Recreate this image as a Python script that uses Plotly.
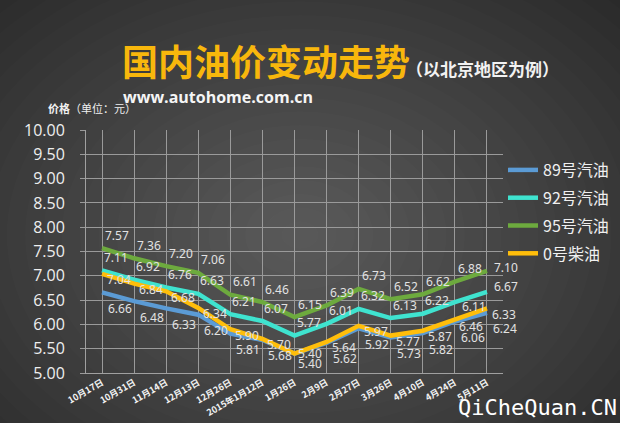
import plotly.graph_objects as go

categories = ["10月17日", "10月31日", "11月14日", "12月13日", "12月26日", "2015年1月12日",
              "1月26日", "2月9日", "2月27日", "3月26日", "4月10日", "4月24日", "5月11日"]
gas89 = [6.66, 6.48, 6.33, 6.20, 5.81, 5.68, 5.40, 5.62, 5.92, 5.73, 5.82, 6.06, 6.24]
gas92 = [7.11, 6.92, 6.76, 6.63, 6.21, 6.07, 5.77, 6.01, 6.32, 6.13, 6.22, 6.46, 6.67]
gas95 = [7.57, 7.36, 7.20, 7.06, 6.61, 6.46, 6.15, 6.39, 6.73, 6.52, 6.62, 6.88, 7.10]
diesel0 = [7.04, 6.84, 6.68, 6.34, 5.90, 5.70, 5.40, 5.64, 5.97, 5.77, 5.87, 6.11, 6.33]
y_ticks = [5.0, 5.5, 6.0, 6.5, 7.0, 7.5, 8.0, 8.5, 9.0, 9.5, 10.0]

series = [
    ("89号汽油", gas89, "#5B9BD5", (18, -16)),
    ("92号汽油", gas92, "#3FE3CF", (14, 13)),
    ("95号汽油", gas95, "#6DAA3E", (15, 13)),
    ("0号柴油", diesel0, "#FFBE0B", (17, -6)),
]
# a few labels were moved by hand in the original
label_override = {("92号汽油", 11): (16, -24), ("0号柴油", 11): (19, 13),
                  ("92号汽油", 12): (19, 5), ("95号汽油", 12): (19, 3),
                  ("0号柴油", 6): (15, 0), ("89号汽油", 6): (15, -10)}

W, H = 620, 423
L, R, T, B = 86, 503, 130, 373


def px(x):
    return (x - L) / (R - L)


def py(y):
    return (B - y) / (B - T)


fig = go.Figure()
annotations = []
for name, vals, color, off in series:
    fig.add_trace(go.Scatter(x=categories, y=vals, mode="lines", name=name,
                             legendgroup=name,
                             line=dict(color=color, width=4.5), hoverinfo="skip"))
    for i, (c, v) in enumerate(zip(categories, vals)):
        dx, dy = label_override.get((name, i), off)
        annotations.append(dict(x=c, y=v, xref="x", yref="y", text=f"{v:.2f}",
                                showarrow=False, xshift=dx, yshift=dy,
                                font=dict(size=12, color="#E2E2E2", family="Noto Sans")))

# titles
annotations += [
    dict(x=px(120), y=py(60), xref="paper", yref="paper", xanchor="left", yanchor="middle",
         text="<b>国内油价变动走势</b>", showarrow=False,
         font=dict(size=36, color="#F8B70C", family="Noto Sans CJK SC")),
    dict(x=px(404), y=py(68), xref="paper", yref="paper", xanchor="left", yanchor="middle",
         text="<b>（以北京地区为例）</b>", showarrow=False,
         font=dict(size=17, color="#F2F2F2", family="Noto Sans CJK SC")),
    dict(x=px(121), y=py(97), xref="paper", yref="paper", xanchor="left", yanchor="middle",
         text="<b>www.autohome.com.cn</b>", showarrow=False,
         font=dict(size=16, color="#F5F5F5", family="Open Sans")),
    dict(x=px(46), y=py(108), xref="paper", yref="paper", xanchor="left", yanchor="middle",
         text="<b>价格</b>（单位：元）", showarrow=False,
         font=dict(size=11, color="#F0F0F0", family="Noto Sans CJK SC")),
    dict(x=px(619), y=py(407), xref="paper", yref="paper", xanchor="right", yanchor="middle",
         text="QiCheQuan.CN", showarrow=False,
         font=dict(size=22, color="#FFFFFF", family="DejaVu Sans Mono")),
]

# radial background gradient
shapes = []
n = 24
cx, cy = 300, 235
for k in range(n):
    f = 1 - k / n
    rx, ry = 440 * f, 330 * f
    shapes.append(dict(type="circle", xref="paper", yref="paper", layer="below",
                       x0=px(cx - rx), x1=px(cx + rx), y0=py(cy + ry), y1=py(cy - ry),
                       fillcolor="rgba(255,255,255,0.012)", line=dict(width=0)))

fig.update_layout(
    width=W, height=H,
    margin=dict(l=L, r=W - R, t=T, b=H - B, autoexpand=False),
    paper_bgcolor="#2A2A2A", plot_bgcolor="rgba(0,0,0,0)",
    showlegend=True,
    legend=dict(x=px(503), y=py(153), xanchor="left", yanchor="top",
                bgcolor="rgba(0,0,0,0)", tracegroupgap=4, itemwidth=30,
                font=dict(size=16, color="#F0F0F0", family="Noto Sans CJK SC")),
    annotations=annotations,
    shapes=shapes,
    xaxis=dict(type="category", range=[-0.5, len(categories) - 0.5], automargin=False,
               showgrid=True, gridcolor="#9A9A9A", gridwidth=1,
               showline=True, linecolor="#A0A0A0", linewidth=1,
               tickangle=-30, ticks="",
               tickfont=dict(size=9, color="#F2F2F2", family="Noto Sans CJK SC"),
               tickvals=categories, ticktext=[f"<b>{c}</b>" for c in categories]),
    yaxis=dict(range=[5, 10], tickvals=y_ticks, tickformat=".2f", automargin=False,
               showgrid=True, gridcolor="#9A9A9A", gridwidth=1,
               showline=True, linecolor="#A0A0A0", linewidth=1,
               ticks="outside", ticklen=5, tickcolor="#9A9A9A",
               ticklabelstandoff=12, zeroline=False,
               tickfont=dict(size=16, color="#EEEEEE", family="Open Sans")),
)

fig.write_html("out.html", config={"displayModeBar": False},
               post_script="document.body.style.margin='0';document.body.style.background='#2A2A2A';")
